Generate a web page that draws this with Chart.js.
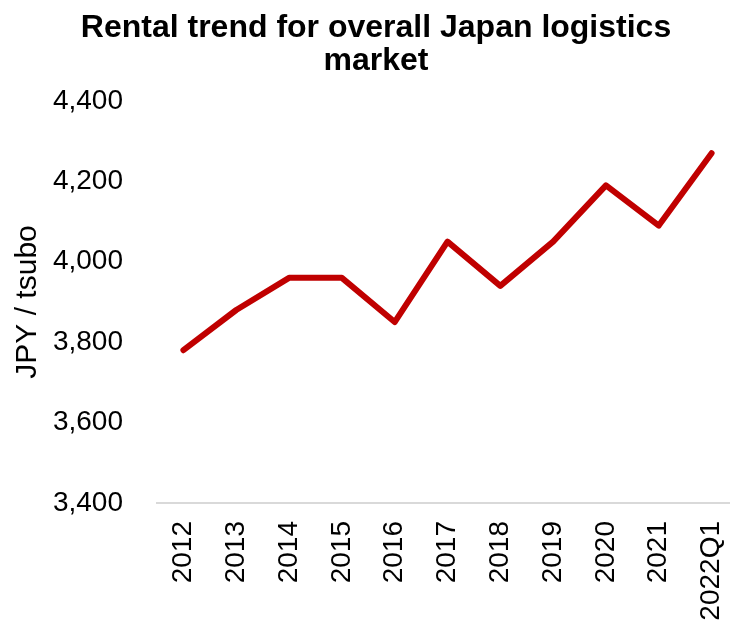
<!DOCTYPE html>
<html>
<head>
<meta charset="utf-8">
<script src="https://cdn.jsdelivr.net/npm/chart.js@4/dist/chart.umd.min.js"></script>
<style>
  html, body { margin:0; padding:0; background:#fff; overflow:hidden; }
  #wrap { width:730px; height:624px; overflow:hidden; }
</style>
</head>
<body>
<div id="wrap"><canvas id="rentChart" width="750" height="624"></canvas></div>
<script>
// ----- data -----
const years = ["2012","2013","2014","2015","2016","2017","2018","2019","2020","2021","2022Q1"];
const rents = [3780, 3880, 3960, 3960, 3850, 4050, 3940, 4050, 4190, 4090, 4270];
const yTicks = [3400, 3600, 3800, 4000, 4200, 4400];

const FONT = "'Liberation Sans', Arial, sans-serif";

// Draw the chart (canvas a bit wider than the window, right edge clipped like the original)
const ctx = document.getElementById("rentChart").getContext("2d");
new Chart(ctx, {
  type: "line",
  data: {
    labels: years,
    datasets: [{
      data: rents,
      borderColor: "#c00000",
      borderWidth: 6,
      pointRadius: 0,
      tension: 0,
      borderCapStyle: "round",
      borderJoinStyle: "round",
      fill: false
    }]
  },
  options: {
    responsive: false,
    animation: false,
    layout: { padding: { top: 12, right: 12, left: 14, bottom: 0 } },
    plugins: {
      legend: { display: false },
      tooltip: { enabled: false },
      title: {
        display: true,
        text: ["Rental trend for overall Japan logistics", "market"],
        color: "#000",
        font: { family: FONT, size: 32, weight: "bold", lineHeight: 1.03 },
        padding: { top: 0, bottom: 23 }
      }
    },
    scales: {
      x: {
        offset: true,
        grid: { display: false, drawTicks: false },
        border: { display: true, color: "#d9d9d9", width: 2 },
        ticks: {
          color: "#000",
          font: { family: FONT, size: 28 },
          minRotation: 90,
          maxRotation: 90,
          padding: 18,
          autoSkip: false
        },
        afterFit: s => { s.height = 121; s.paddingLeft = 0; s.paddingRight = 0; }
      },
      y: {
        min: 3400,
        max: 4400,
        grid: { display: false, drawTicks: false },
        border: { display: false },
        afterBuildTicks: s => { s.ticks = yTicks.map(v => ({ value: v })); },
        ticks: {
          color: "#000",
          font: { family: FONT, size: 28 },
          padding: 34,
          callback: v => v.toLocaleString("en-US")
        },
        title: {
          display: true,
          text: "JPY / tsubo",
          color: "#000",
          font: { family: FONT, size: 30, lineHeight: 0.9 },
          padding: { top: 0, bottom: 0 }
        },
        afterFit: s => { s.width = 143; }
      }
    }
  }
});
</script>
</body>
</html>
